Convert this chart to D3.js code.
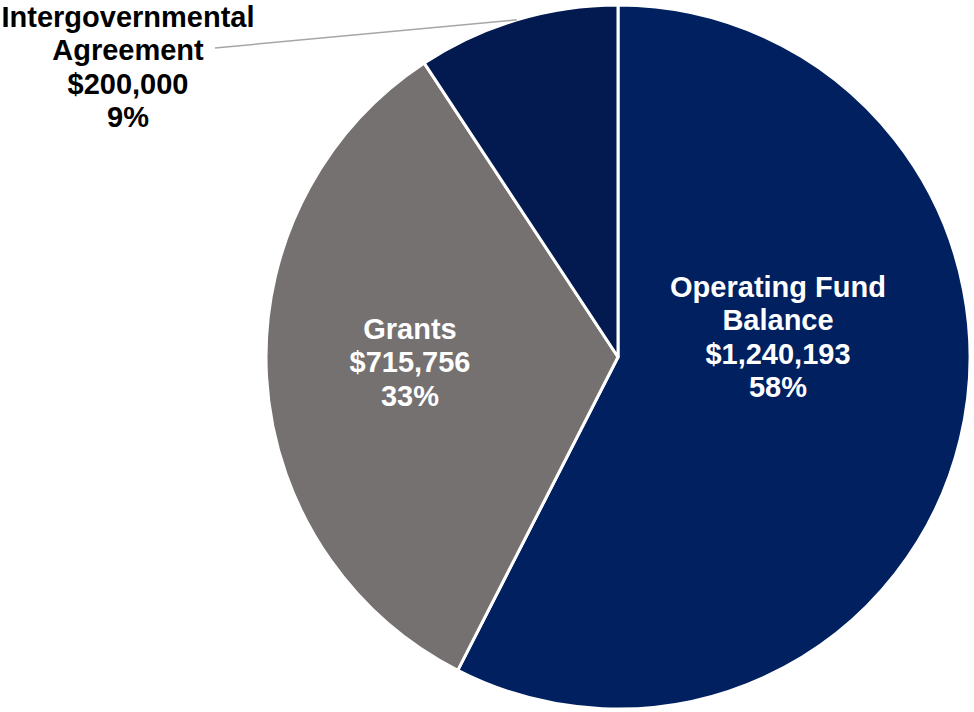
<!DOCTYPE html>
<html><head><meta charset="utf-8">
<script src="https://cdn.jsdelivr.net/npm/d3@7"></script>
<style>html,body{margin:0;padding:0;background:#fff;}svg{display:block;}</style>
</head><body>
<svg id="chart" width="974" height="712"></svg>
<script>
const categories = ["Operating Fund Balance", "Grants", "Intergovernmental Agreement"];
const values = [1240193, 715756, 200000];
const labelLines = [["Operating Fund", "Balance"], ["Grants"], ["Intergovernmental", "Agreement"]];
const colors = ["#002060", "#767171", "#021A4F"];

const W = 974, H = 712, cx = 618, cy = 357, R = 352;
const svg = d3.select("#chart");
const g = svg.append("g").attr("transform", `translate(${cx},${cy})`);

const total = d3.sum(values);
const data = categories.map((c, i) => ({name: c, value: values[i], lines: labelLines[i], color: colors[i]}));
const pie = d3.pie().value(d => d.value).sort(null);
const arcs = pie(data);
const arc = d3.arc().innerRadius(0).outerRadius(R);

g.selectAll("path").data(arcs).join("path")
  .attr("d", arc)
  .attr("fill", d => d.data.color)
  .attr("stroke", "#fff").attr("stroke-width", 3).attr("stroke-linejoin", "round");

const fmt = d3.format("$,");
const pct = v => Math.round(v / total * 100) + "%";
// label anchor positions (relative to pie center) and text colors
const labelPos = [
  {x: 160, y: -20, color: "#fff"},
  {x: -208, y: 5, color: "#fff"},
  {x: -490, y: -290, color: "#000"}
];
const lineH = 33.4;
arcs.forEach((a, i) => {
  const lines = [...a.data.lines, fmt(a.data.value), pct(a.data.value)];
  const p = labelPos[i];
  const t = g.append("text")
    .attr("text-anchor", "middle")
    .attr("font-family", "Liberation Sans, Arial, sans-serif")
    .attr("font-weight", "bold")
    .attr("font-size", 29)
    .attr("fill", p.color);
  const y0 = p.y - (lines.length - 1) * lineH / 2;
  lines.forEach((l, k) => {
    t.append("tspan").attr("x", p.x).attr("y", y0 + k * lineH).attr("dy", "0.35em").text(l);
  });
});

// leader line for Intergovernmental Agreement
const ia = arcs[2];
const mid = (ia.startAngle + ia.endAngle) / 2;
const sx = R * Math.sin(mid), sy = -R * Math.cos(mid);
g.append("line")
  .attr("x1", sx).attr("y1", sy)
  .attr("x2", 215 - cx).attr("y2", 48 - cy)
  .attr("stroke", "#A6A6A6").attr("stroke-width", 1.5);
</script>
</body></html>
